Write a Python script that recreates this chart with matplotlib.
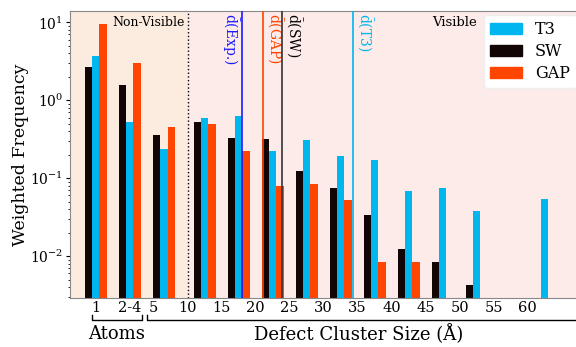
# -*- coding: utf-8 -*-

import numpy as np
import matplotlib as mpl
mpl.use("Agg")
import matplotlib.pyplot as plt
from matplotlib.patches import Patch
from matplotlib.transforms import blended_transform_factory

plt.rcParams['font.family'] = 'DejaVu Serif'
plt.rcParams['mathtext.fontset'] = 'dejavuserif'

# bin centres: three "atoms" bins, then 5 A wide size bins
atom_pos = [-3.5, 1.5, 6.5]
size_pos = [12.5, 17.5, 22.5, 27.5, 32.5, 37.5, 42.5, 47.5, 52.5, 57.5, 62.5]

nan = np.nan
sw_vals = [2.69, 1.58, 0.358,
           0.525, 0.327, 0.318, 0.125, 0.0748, 0.0333, 0.0125, 0.0085, 0.0042, nan, nan]
t3_vals = [3.7, 0.53, 0.234,
           0.60, 0.62, 0.225, 0.309, 0.194, 0.169, 0.0685, 0.0748, 0.038, nan, 0.054]
gap_vals = [9.6, 3.05, 0.457,
            0.50, 0.225, 0.0785, 0.0843, 0.053, 0.0085, 0.0085, nan, nan, nan, nan]

# mean cluster sizes
d_mean = {'Exp.': 18.0, 'GAP': 21.1, 'SW': 23.85, 'T3': 34.3}

tick_pos = [-3.5, 1.5, 5, 10, 15, 20, 25, 30, 35, 40, 45, 50, 55, 60]
tick_lab = ['1', '2-4', '5', '10', '15', '20', '25', '30', '35', '40', '45',
            '50', '55', '60']

color = {
    'SW': '#120505',
    'T3': '#00b6ee',
    'GAP': '#ff4500',
    'Exp.': '#1a1aff',
}


def main(out_file):
    fig = plt.figure(figsize=(5.76, 3.47), dpi=100)
    ax = fig.add_axes([0.1215, 0.1412, 0.889, 0.8257])

    xpos = np.array(atom_pos + size_pos)
    w = 1.08

    # background zones
    ax.axvspan(-10, 10, color='#fcebdf', zorder=0)
    ax.axvspan(10, 80, color='#fdebea', zorder=0)
    ax.axvline(10, color='k', ls=':', lw=1.0, zorder=1)

    ax.bar(xpos - w, sw_vals, w, color=color['SW'], zorder=2)
    ax.bar(xpos, t3_vals, w, color=color['T3'], zorder=2)
    ax.bar(xpos + w, gap_vals, w, color=color['GAP'], zorder=2)

    ax.set_yscale('log')
    ax.set_ylim(0.0029, 13.8)
    ax.set_xlim(-7.3, 68)

    tr = blended_transform_factory(ax.transData, ax.transAxes)

    # mean lines with labels
    for key, side in [('Exp.', 'right'), ('GAP', 'left'), ('SW', 'left'), ('T3', 'left')]:
        x = d_mean[key]
        c = color[key] if key != 'SW' else '#333333'
        ax.axvline(x, color=c, lw=1.2, zorder=3)
        dx = -0.25 if side == 'right' else 0.25
        ax.text(x + dx, 0.995, r'$\bar{\mathrm{d}}$(' + key + ')', transform=tr,
                rotation=270, ha=side, va='top', fontsize=10,
                color=color[key] if key != 'SW' else 'k')

    ax.text(9.5, 0.985, 'Non-Visible', transform=tr, ha='right', va='top', fontsize=9)
    ax.text(49.3, 0.985, 'Visible', transform=tr, ha='center', va='top', fontsize=9.5)

    ax.set_xticks(tick_pos)
    ax.set_xticklabels(tick_lab, fontsize=10.5)
    ax.tick_params(axis='x', length=0, pad=2)
    ax.tick_params(axis='y', labelsize=10, which='major', length=3, pad=2)
    ax.tick_params(axis='y', which='minor', length=1.5)
    ax.set_ylabel('Weighted Frequency', fontsize=12.5)
    ax.yaxis.set_label_coords(-0.08, 0.5)

    for s in ax.spines.values():
        s.set_color('#888888')

    # brackets below the axis
    y0, y1 = -0.059, -0.077
    ax.plot([-4.09, -4.09, 3.26, 3.26], [y0, y1, y1, y0], color='k', lw=1.0,
            transform=tr, clip_on=False)
    ax.plot([4.0, 4.0, 80], [y0, y1, y1], color='k', lw=1.0,
            transform=tr, clip_on=False)
    ax.text(-0.4, -0.125, 'Atoms', transform=tr, ha='center', va='center', fontsize=13)
    ax.text(35.1, -0.125, 'Defect Cluster Size (Å)', transform=tr, ha='center',
            va='center', fontsize=13)

    handles = [Patch(color=color['T3'], label='T3'),
               Patch(color=color['SW'], label='SW'),
               Patch(color=color['GAP'], label='GAP')]
    leg = ax.legend(handles=handles, loc='upper left', bbox_to_anchor=(484 / 576., 1 - 15 / 347.),
                    bbox_transform=fig.transFigure, fontsize=11.5, labelspacing=0.3,
                    handlelength=2.0, framealpha=1, borderaxespad=0)
    leg.get_frame().set_edgecolor('#eeeeee')

    fig.savefig(out_file, dpi=100)
    plt.close()
    print('>>> {}'.format(out_file))


if __name__ == '__main__':
    main('out.png')
